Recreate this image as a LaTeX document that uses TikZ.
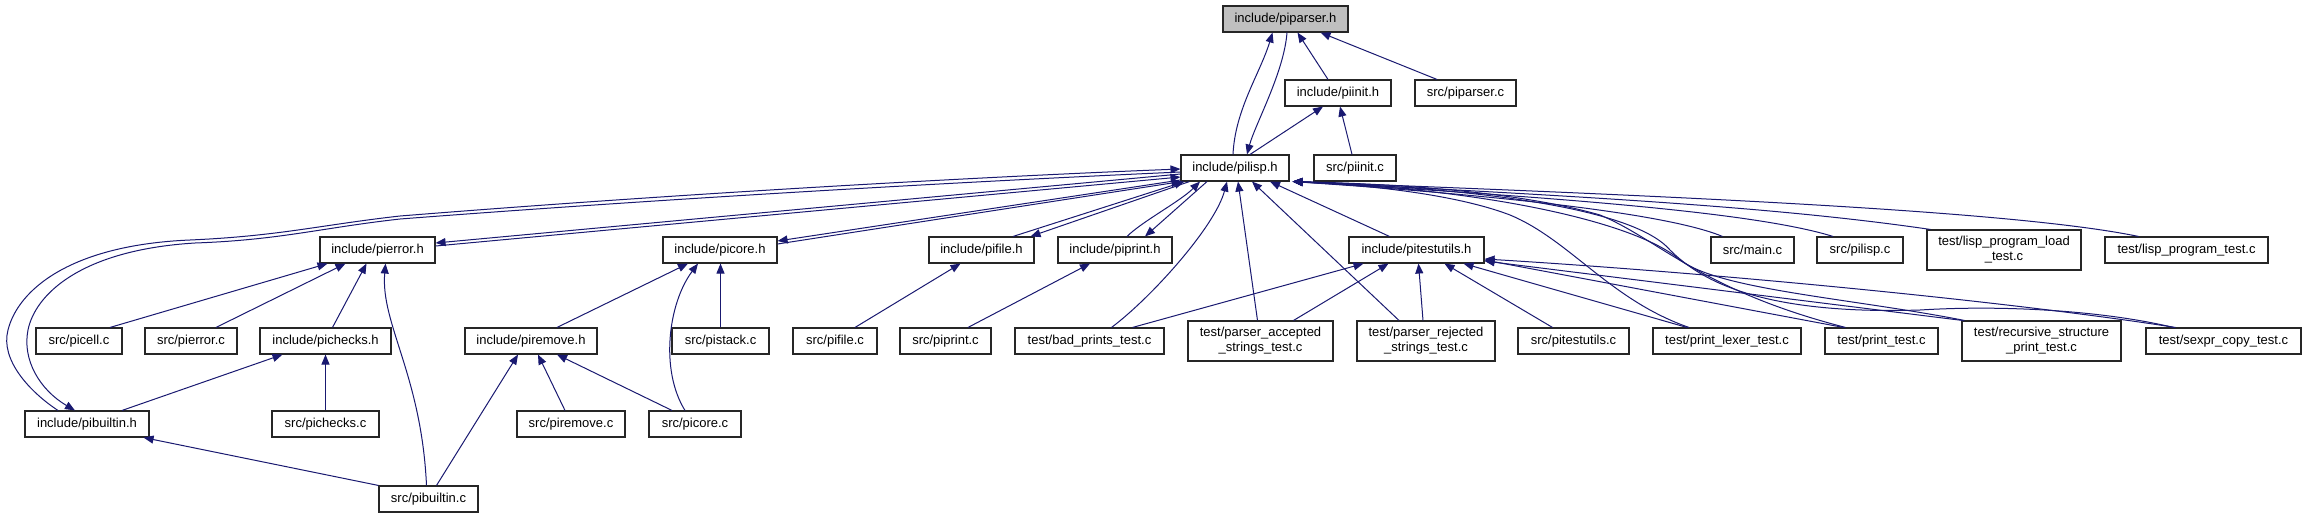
\documentclass[tikz,border=0pt]{standalone}
\usepackage{fontspec}
\setmainfont{Liberation Sans}
\usetikzlibrary{arrows.meta}
\definecolor{edgeblue}{HTML}{191970}
\definecolor{rootgray}{HTML}{BFBFBF}
\begin{document}
\begin{tikzpicture}[x=1pt,y=-1pt,
  fbox/.style={draw=black!85, line width=1.1pt, rectangle, inner sep=0pt, minimum height=26pt,
    font=\fontsize{13}{15}\selectfont, align=center, fill=white},
  rootbox/.style={fbox, fill=rootgray},
  dep/.style={draw=edgeblue, line width=1pt, -{Triangle[length=10pt,width=8pt]}}]
\useasboundingbox (0,0) rectangle (2306,517);
% nodes
\node[rootbox, minimum width=125pt] (piparser) at (1285.5,19) {include/piparser.h};
\node[fbox, minimum width=106pt] (piinit) at (1338,93) {include/piinit.h};
\node[fbox, minimum width=101pt] (piparserc) at (1465.5,93) {src/piparser.c};
\node[fbox, minimum width=108pt] (pilisp) at (1235,168) {include/pilisp.h};
\node[fbox, minimum width=82pt] (piinitc) at (1355,168) {src/piinit.c};
\node[fbox, minimum width=115pt] (pierror) at (377.5,250) {include/pierror.h};
\node[fbox, minimum width=114pt] (picore) at (720,250) {include/picore.h};
\node[fbox, minimum width=105pt] (pifile) at (981.5,250) {include/pifile.h};
\node[fbox, minimum width=114pt] (piprint) at (1115,250) {include/piprint.h};
\node[fbox, minimum width=135pt] (pitestutils) at (1416.5,250) {include/pitestutils.h};
\node[fbox, minimum width=83pt] (mainc) at (1752.5,250) {src/main.c};
\node[fbox, minimum width=86pt] (pilispc) at (1860,250) {src/pilisp.c};
\node[fbox, minimum width=154pt, minimum height=40pt] (lispload) at (2004,250) {test/lisp\_program\_load\\\_test.c};
\node[fbox, minimum width=163pt] (lisptest) at (2186.5,250) {test/lisp\_program\_test.c};
\node[fbox, minimum width=86pt] (picellc) at (79,341) {src/picell.c};
\node[fbox, minimum width=92pt] (pierrorc) at (191,341) {src/pierror.c};
\node[fbox, minimum width=131pt] (pichecks) at (325.5,341) {include/pichecks.h};
\node[fbox, minimum width=132pt] (piremove) at (531,341) {include/piremove.h};
\node[fbox, minimum width=97pt] (pistackc) at (720.5,341) {src/pistack.c};
\node[fbox, minimum width=84pt] (pifilec) at (835,341) {src/pifile.c};
\node[fbox, minimum width=91pt] (piprintc) at (945.5,341) {src/piprint.c};
\node[fbox, minimum width=149pt] (badprints) at (1089.5,341) {test/bad\_prints\_test.c};
\node[fbox, minimum width=145pt, minimum height=40pt] (paccepted) at (1260.5,341) {test/parser\_accepted\\\_strings\_test.c};
\node[fbox, minimum width=138pt, minimum height=40pt] (prejected) at (1426,341) {test/parser\_rejected\\\_strings\_test.c};
\node[fbox, minimum width=111pt] (pitestutilsc) at (1573.5,341) {src/pitestutils.c};
\node[fbox, minimum width=148pt] (printlexer) at (1727,341) {test/print\_lexer\_test.c};
\node[fbox, minimum width=113pt] (printtest) at (1881.5,341) {test/print\_test.c};
\node[fbox, minimum width=159pt, minimum height=40pt] (recursive) at (2041.5,341) {test/recursive\_structure\\\_print\_test.c};
\node[fbox, minimum width=155pt] (sexpr) at (2223.5,341) {test/sexpr\_copy\_test.c};
\node[fbox, minimum width=124pt] (pibuiltinh) at (87,424) {include/pibuiltin.h};
\node[fbox, minimum width=107pt] (picheckc) at (325.5,424) {src/pichecks.c};
\node[fbox, minimum width=108pt] (piremovec) at (571,424) {src/piremove.c};
\node[fbox, minimum width=92pt] (picorec) at (695,424) {src/picore.c};
\node[fbox, minimum width=99pt] (pibuiltinc) at (428.5,499) {src/pibuiltin.c};
\coordinate (pilispE) at ([xshift=3pt]pilisp.south east);
% top edges
\draw[dep] ([xshift=-2pt]pilisp.north) .. controls +(2,-45) and +(-12,40) .. ([xshift=-13pt]piparser.south);
\draw[dep] ([xshift=1.5pt]piparser.south) .. controls +(-3,40) and +(8,-30) .. ([xshift=12pt]pilisp.north);
\draw[dep] ([xshift=-10pt]piinit.north) -- ([xshift=12pt]piparser.south);
\draw[dep] ([xshift=-28.5pt]piparserc.north) -- ([xshift=35pt]piparser.south);
\draw[dep] ([xshift=15pt]pilisp.north) -- ([xshift=-15pt]piinit.south);
\draw[dep] ([xshift=-3pt]piinitc.north) -- ([xshift=2pt]piinit.south);
% left fan pairs
\draw[dep] ([xshift=-29pt]pibuiltinh.north) .. controls (30,392) and (0,360) .. (8,330)
  .. controls (18,290) and (70,245) .. (190,240) .. controls (280,236) and (320,225) .. (400,216)
  .. controls (700,192) and (1000,176) .. ([yshift=-1pt]pilisp.west);
\draw[dep] ([yshift=-4pt]pilisp.west) .. controls (1000,180) and (700,196) .. (400,219)
  .. controls (320,228) and (280,240) .. (195,243) .. controls (80,250) and (35,295) .. (28,330)
  .. controls (22,360) and (40,390) .. ([xshift=-12pt]pibuiltinh.north);
\draw[dep] ([yshift=-6pt]pilisp.west) -- ([yshift=7pt]pierror.east);
\draw[dep] ([yshift=4pt]pierror.east) -- ([yshift=-9pt]pilisp.west);
\draw[dep] ([yshift=-12pt]pilisp.west) -- ([yshift=9pt]picore.east);
\draw[dep] ([yshift=6pt]picore.east) -- ([xshift=1pt]pilisp.south west);
\draw[dep] ([xshift=31.5pt]pifile.north) -- ([xshift=4pt]pilisp.south west);
\draw[dep] ([xshift=9pt]pilisp.south west) -- ([xshift=49pt]pifile.north);
\draw[dep] ([xshift=12pt]piprint.north) .. controls +(15,-15) and +(-20,20) .. ([xshift=-35pt]pilisp.south);
\draw[dep] ([xshift=-28pt]pilisp.south) -- ([xshift=30pt]piprint.north);
% bottom fan of pilisp
\draw[dep] ([xshift=22pt]badprints.north) .. controls +(40,-30) and +(-12,45) .. ([xshift=-8pt]pilisp.south);
\draw[dep] ([xshift=-3pt]paccepted.north) -- ([xshift=3pt]pilisp.south);
\draw[dep] ([xshift=-27pt]prejected.north) -- ([xshift=17pt]pilisp.south);
\draw[dep] ([xshift=-27pt]pitestutils.north) -- ([xshift=35pt]pilisp.south);
% pitestutils.h
\draw[dep] ([xshift=43pt]badprints.north) -- ([xshift=-53pt]pitestutils.south);
\draw[dep] ([xshift=33pt]paccepted.north) -- ([xshift=-28pt]pitestutils.south);
\draw[dep] ([xshift=-3pt]prejected.north) -- ([xshift=2pt]pitestutils.south);
\draw[dep] ([xshift=-21pt]pitestutilsc.north) -- ([xshift=28pt]pitestutils.south);
\draw[dep] ([xshift=-40pt]printlexer.north) -- ([xshift=47pt]pitestutils.south);
\draw[dep] ([xshift=-38pt]printtest.north) -- ([yshift=-10pt]pitestutils.east);
\draw[dep] ([xshift=1pt]recursive.north west) -- ([yshift=-11pt]pitestutils.east);
\draw[dep] ([xshift=-48pt]sexpr.north) .. controls (2000,300) and (1700,272) .. ([yshift=-9pt]pitestutils.east);
% right fan of pilisp
\draw[dep] ([xshift=-30pt]mainc.north) .. controls +(-60,-25) and +(180,12) .. (pilispE);
\draw[dep] ([xshift=-27pt]pilispc.north) .. controls +(-80,-25) and +(250,15) .. (pilispE);
\draw[dep] ([xshift=4pt]lispload.north west) .. controls +(-150,-22) and +(300,15) .. (pilispE);
\draw[dep] ([xshift=-48pt]lisptest.north) .. controls +(-120,-25) and +(400,15) .. (pilispE);
\draw[dep] ([xshift=-38pt]printlexer.north) .. controls (1610,300) and (1570,240) .. (1510,215)
  .. controls (1450,192) and (1350,184) .. (pilispE);
\draw[dep] ([xshift=-36pt]printtest.north) .. controls (1700,290) and (1660,240) .. (1600,215)
  .. controls (1520,192) and (1400,184) .. (pilispE);
\draw[dep] ([xshift=3pt]recursive.north west) .. controls (1850,298) and (1720,290) .. (1680,260)
  .. controls (1640,225) and (1500,190) .. (pilispE);
\draw[dep] ([xshift=-50pt]sexpr.north) .. controls (2100,310) and (2000,305) .. (1920,310)
  .. controls (1760,315) and (1700,280) .. (1670,250) .. controls (1640,215) and (1520,190) .. (pilispE);
% pierror.h
\draw[dep] ([xshift=31pt]picellc.north) -- ([xshift=-50pt]pierror.south);
\draw[dep] ([xshift=25pt]pierrorc.north) -- ([xshift=-32pt]pierror.south);
\draw[dep] ([xshift=7pt]pichecks.north) -- ([xshift=-11pt]pierror.south);
\draw[dep] ([xshift=-2pt]pibuiltinc.north) .. controls +(-5,-110) and +(-5,60) .. ([xshift=8pt]pierror.south);
% pichecks.h, pibuiltin.h
\draw[dep] ([xshift=35pt]pibuiltinh.north) -- ([xshift=-43pt]pichecks.south);
\draw[dep] (picheckc.north) -- (pichecks.south);
\draw[dep] (pibuiltinc.north west) -- ([xshift=-6pt]pibuiltinh.south east);
% piremove.h, picore.h
\draw[dep] ([xshift=8pt]pibuiltinc.north) -- ([xshift=-13pt]piremove.south);
\draw[dep] ([xshift=-6pt]piremovec.north) -- ([xshift=7pt]piremove.south);
\draw[dep] ([xshift=-23pt]picorec.north) -- ([xshift=26pt]piremove.south);
\draw[dep] ([xshift=-10pt]picorec.north) .. controls +(-25,-40) and +(-30,40) .. ([xshift=-22pt]picore.south);
\draw[dep] ([xshift=26pt]piremove.north) -- ([xshift=-32pt]picore.south);
\draw[dep] (pistackc.north) -- (pistackc.north |- picore.south);
% pifile.h, piprint.h
\draw[dep] ([xshift=20pt]pifilec.north) -- ([xshift=-21pt]pifile.south);
\draw[dep] ([xshift=22.5pt]piprintc.north) -- ([xshift=-25pt]piprint.south);
\end{tikzpicture}
\end{document}
